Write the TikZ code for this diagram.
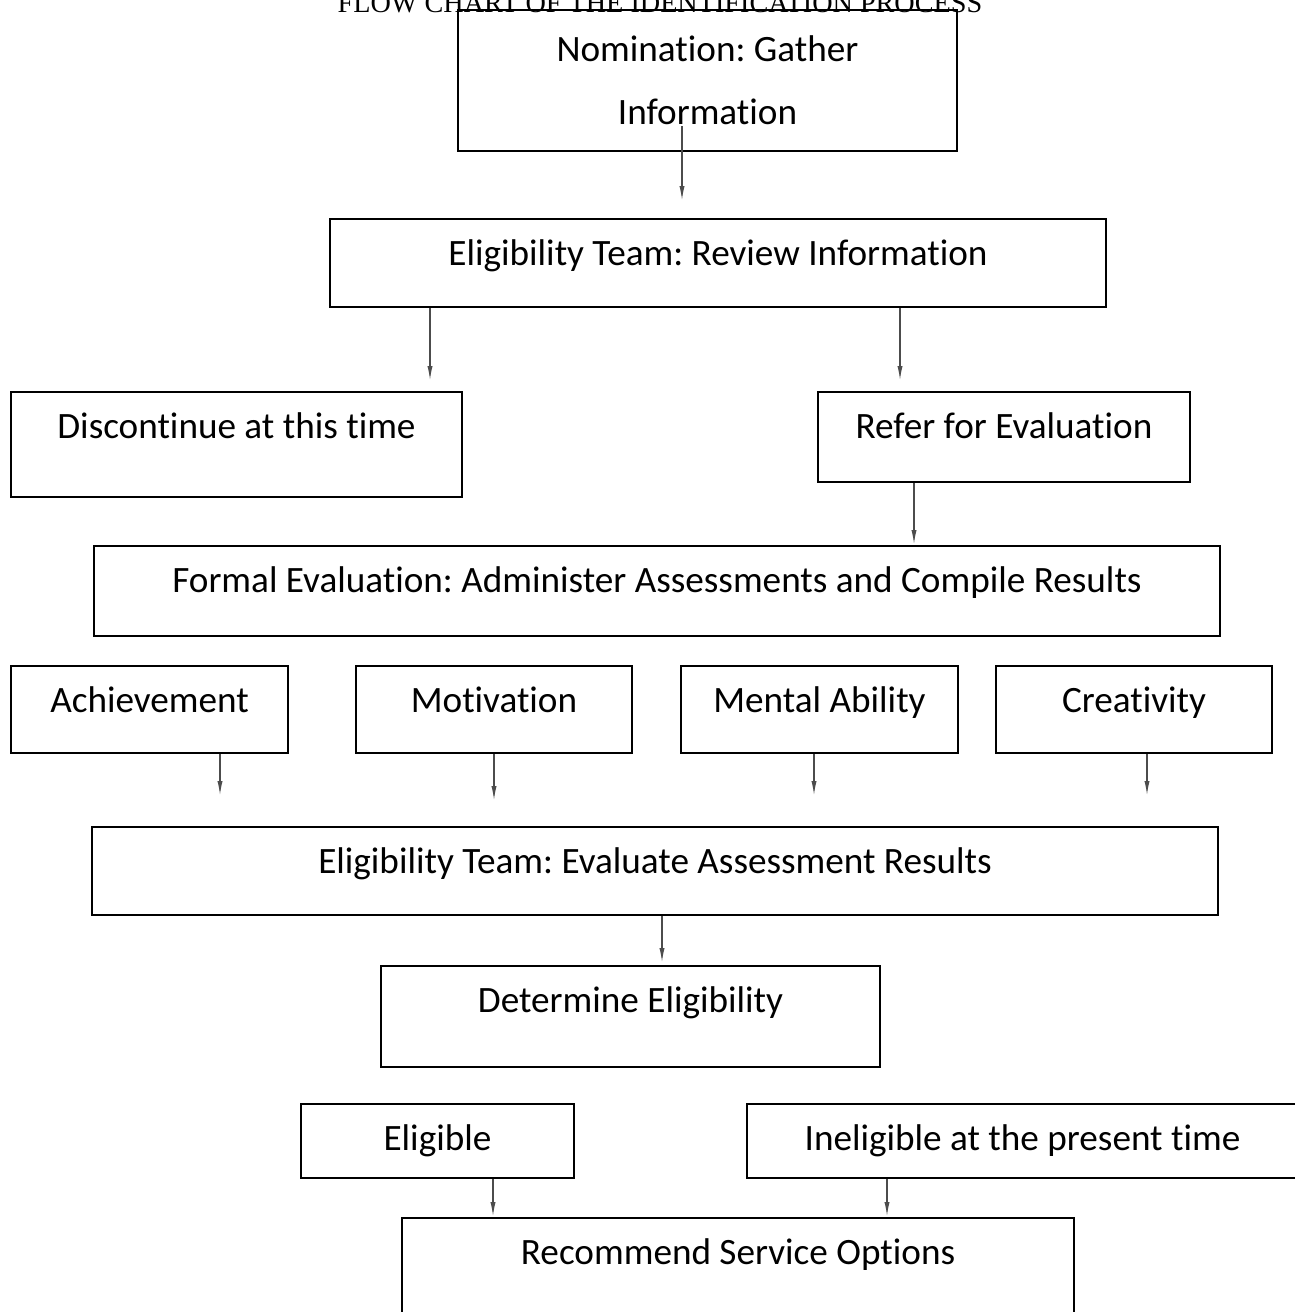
\documentclass[tikz,border=0pt]{standalone}
\usepackage{fontspec}
\setmainfont{Carlito}[Ligatures={NoCommon}]
\newfontfamily\titlefont{Liberation Serif}
\usepackage{tikz}
\usetikzlibrary{arrows.meta}
\frenchspacing

\tikzset{
  box/.style 2 args={draw, line width=1pt, inner sep=0pt, anchor=north west,
    minimum width=#1, text height=23pt, text depth=#2,
    font=\fontsize{18.6}{22}\selectfont},
  arr/.style={->, line width=0.55pt, black!70},
  >={Latex[length=7pt,width=2.6pt]}
}

\begin{document}
\begin{tikzpicture}[x=0.5pt,y=-0.5pt]
\useasboundingbox (0,0) rectangle (1295,1312);

% titre
\node[anchor=base, inner sep=0pt, font=\titlefont\fontsize{14.1}{16}\selectfont] (title) at (660,12) {FLOW CHART OF THE IDENTIFICATION PROCESS};

% Nomination
\node[draw, line width=1pt, minimum width=249.5pt, minimum height=70.5pt, align=center,
  font=\fontsize{18.6}{31.5}\selectfont] (nom) at (707.5,80.5) {Nomination: Gather\\Information};

% Review
\node[box={388pt}{21pt}] (rev) at (329,218) {Eligibility Team: Review Information};
\node[box={225.5pt}{29.5pt}] (disc) at (10,391) {Discontinue at this time};
\node[box={186pt}{22pt}] (ref) at (817,391) {Refer for Evaluation};

% Formal evaluation
\node[box={563pt}{22pt}] (formal) at (93,545) {Formal Evaluation: Administer Assessments and Compile Results};

% Assessments
\node[box={138.5pt}{20.5pt}] (ach) at (10,665) {Achievement};
\node[box={138pt}{20.5pt}] (mot) at (355,665) {Motivation};
\node[box={138.5pt}{20.5pt}] (ment) at (680,665) {Mental Ability};
\node[box={138pt}{20.5pt}] (cre) at (995,665) {Creativity};

% Results
\node[box={563pt}{21pt}] (evalres) at (91,826) {Eligibility Team: Evaluate Assessment Results};
\node[box={249.5pt}{27.5pt}] (det) at (380,965) {Determine Eligibility};
\node[box={136.5pt}{14pt}] (elig) at (300,1103) {Eligible};
\node[box={275.5pt}{14pt}] (inel) at (746,1103) {Ineligible at the present time};
\node[box={336pt}{42pt}] (rec) at (401,1217) {Recommend Service Options};

% fleches
\draw[arr, shorten <=-13pt, shorten >=9pt] ([xshift=-12.75pt]nom.south) -- ([xshift=-12.75pt]nom.south |- rev.north);
\draw[arr, shorten >=5.5pt] ([xshift=-144pt]rev.south) -- ([xshift=-144pt]rev.south |- disc.north);
\draw[arr, shorten >=5.5pt] ([xshift=91pt]rev.south) -- ([xshift=91pt]rev.south |- ref.north);
\draw[arr, shorten >=0.5pt] ([xshift=-45pt]ref.south) -- ([xshift=-45pt]ref.south |- formal.north);

\draw[arr, shorten >=15.5pt] ([xshift=35.25pt]ach.south) -- ([xshift=35.25pt]ach.south |- evalres.north);
\draw[arr, shorten >=13pt] (mot.south) -- (mot.south |- evalres.north);
\draw[arr, shorten >=15.5pt] ([xshift=-2.75pt]ment.south) -- ([xshift=-2.75pt]ment.south |- evalres.north);
\draw[arr, shorten >=15.5pt] ([xshift=6.5pt]cre.south) -- ([xshift=6.5pt]cre.south |- evalres.north);

\draw[arr, shorten >=1.5pt] ([xshift=3.5pt]evalres.south) -- ([xshift=3.5pt]evalres.south |- det.north);
\draw[arr, shorten >=0.5pt] ([xshift=27.75pt]elig.south) -- ([xshift=27.75pt]elig.south |- rec.north);
\draw[arr, shorten >=0.5pt] ([xshift=-67.75pt]inel.south) -- ([xshift=-67.75pt]inel.south |- rec.north);
\end{tikzpicture}
\end{document}
